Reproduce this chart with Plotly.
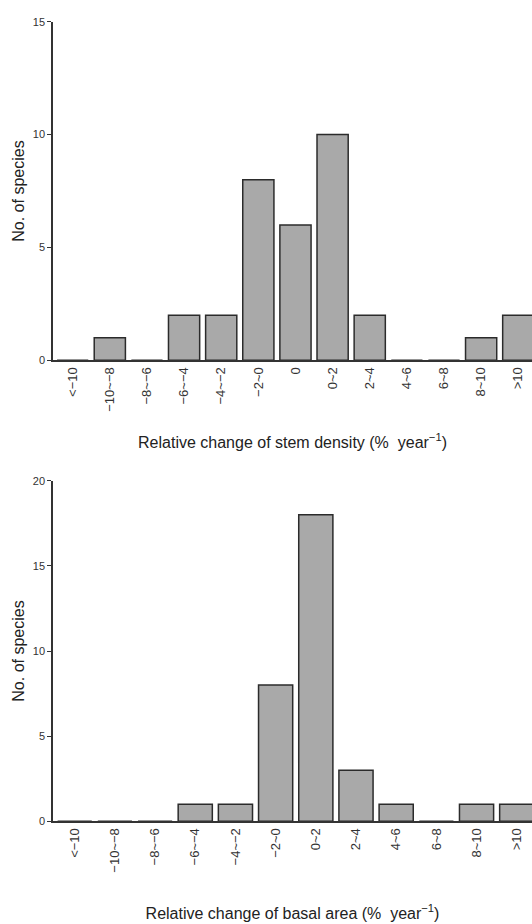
import plotly.graph_objects as go

# ---- data ----
cats_density = ["<−10", "−10~−8", "−8~−6", "−6~−4", "−4~−2", "−2~0", "0",
                "0~2", "2~4", "4~6", "6~8", "8~10", ">10"]
species_density = [0, 1, 0, 2, 2, 8, 6, 10, 2, 0, 0, 1, 2]

cats_basal = ["<−10", "−10~−8", "−8~−6", "−6~−4", "−4~−2", "−2~0",
              "0~2", "2~4", "4~6", "6~8", "8~10", ">10"]
species_basal = [0, 0, 0, 1, 1, 8, 18, 3, 1, 0, 1, 1]

yticks_density = [0, 5, 10, 15]
yticks_basal = [0, 5, 10, 15, 20]

BAR_FILL = "#a9a9a9"
BAR_LINE = "#2b2b2b"
AXIS = "#333333"
FONT = "Liberation Sans, Arial, Helvetica, sans-serif"

fig = go.Figure()
fig.add_trace(go.Bar(x=cats_density, y=species_density, width=0.84,
                     marker=dict(color=BAR_FILL, line=dict(color=BAR_LINE, width=1.5)),
                     xaxis="x", yaxis="y", showlegend=False))
fig.add_trace(go.Bar(x=cats_basal, y=species_basal, width=0.85,
                     marker=dict(color=BAR_FILL, line=dict(color=BAR_LINE, width=1.5)),
                     xaxis="x2", yaxis="y2", showlegend=False))

common_x = dict(type="category", showline=True, linecolor=AXIS, linewidth=1.5,
                ticks="", tickangle=-90, showgrid=False, zeroline=False,
                tickfont=dict(size=13, color="#333", family=FONT))
common_y = dict(showline=True, linecolor=AXIS, linewidth=1.5, ticks="outside",
                ticklen=4, tickcolor=AXIS, tickwidth=1, showgrid=False, zeroline=False,
                tickfont=dict(size=11, color="#333", family=FONT))

fig.update_layout(
    width=532, height=924,
    margin=dict(l=53, r=0, t=0, b=0),
    paper_bgcolor="white", plot_bgcolor="white",
    font=dict(family=FONT, color="#222"),
    xaxis=dict(common_x, domain=[0, 1], anchor="y", range=[-0.53, 12.37],
               title=dict(text="Relative change of stem density (%  year<sup>−1</sup>)",
                          font=dict(size=16, color="#222"), standoff=26)),
    yaxis=dict(common_y, domain=[0.6115, 0.9827], anchor="x", range=[0, 15],
               tickvals=yticks_density,
               title=dict(text="No. of species", font=dict(size=16, color="#222"), standoff=4)),
    xaxis2=dict(common_x, domain=[0, 1], anchor="y2", range=[-0.54, 11.38],
                title=dict(text="Relative change of basal area (%  year<sup>−1</sup>)",
                           font=dict(size=16, color="#222"), standoff=36)),
    yaxis2=dict(common_y, domain=[0.1061, 0.4794], anchor="x2", range=[0, 20],
                tickvals=yticks_basal,
                title=dict(text="No. of species", font=dict(size=16, color="#222"), standoff=4)),
    bargap=0.16,
)

fig.write_html("out.html")
